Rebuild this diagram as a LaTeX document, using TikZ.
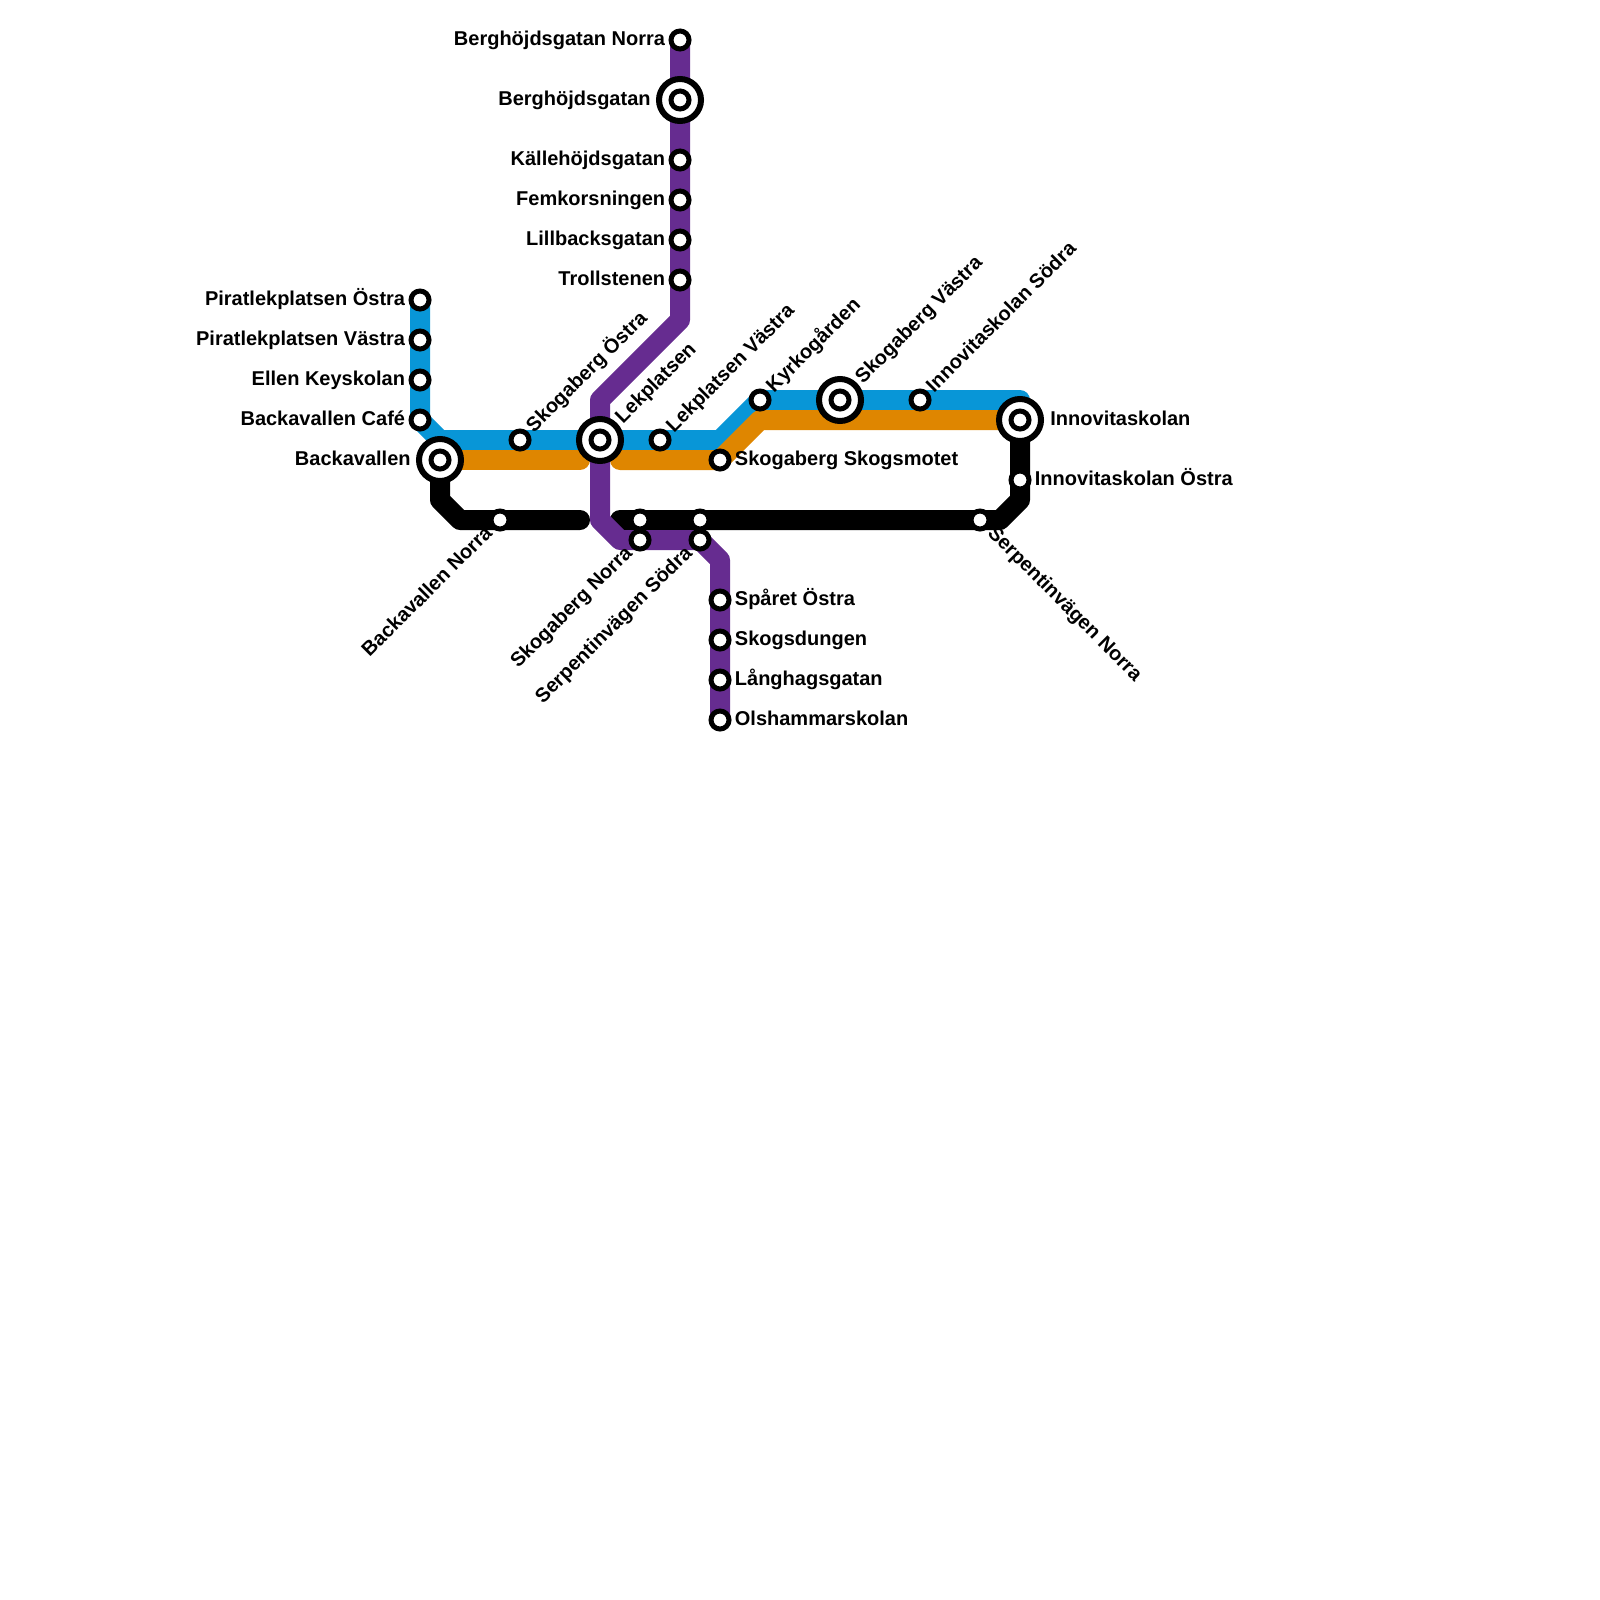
\documentclass[tikz,border=0pt]{standalone}
\usepackage{fontspec}
\setmainfont{Liberation Sans}
\usetikzlibrary{positioning}
\definecolor{METblue}{HTML}{0896D7}
\definecolor{METorange}{HTML}{DF8600}
\definecolor{METpurple}{HTML}{662C90}
\pgfdeclarelayer{lines}
\pgfsetlayers{lines,main}
\tikzset{metline/.style={line width=10pt,line cap=round,line join=round},
 stop/.style={circle,draw=black,line width=2.5pt,fill=white,inner sep=0pt,minimum size=9pt},
 hub/.style={circle,draw=black,line width=3pt,fill=white,inner sep=0pt,minimum size=21pt,
 path picture={\draw[line width=2.5pt] (path picture bounding box.center) circle (4.5pt);}},
 lbl/.style={font=\bfseries\fontsize{10}{10}\selectfont,inner sep=1.5pt,text=black,text height=7.4pt,text depth=2.2pt},
 lblne/.style={lbl,rotate=45,anchor=west},
 lblsw/.style={lbl,rotate=45,anchor=east},
 lblse/.style={lbl,rotate=-45,anchor=west}}

\begin{document}
\begin{tikzpicture}[x=10pt,y=-10pt]
\useasboundingbox (0,0) rectangle (80,80);
% purple
\node[stop] (bergnorra) at (34,2) {};
\node[hub] (berg) at (34,5) {};
\node[stop] (kalle) at (34,8) {};
\node[stop] (femkors) at (34,10) {};
\node[stop] (lillback) at (34,12) {};
\node[stop] (troll) at (34,14) {};
\node[stop] (skogsnorrap) at (32,27) {};
\node[stop] (serpsodra) at (35,27) {};
\node[stop] (sparet) at (36,30) {};
\node[stop] (skogsdungen) at (36,32) {};
\node[stop] (langhag) at (36,34) {};
\node[stop] (olshammar) at (36,36) {};
% blue and orange
\node[stop] (piratost) at (21,15) {};
\node[stop] (piratvast) at (21,17) {};
\node[stop] (ellen) at (21,19) {};
\node[stop] (backacafe) at (21,21) {};
\node[hub] (backa) at (22,23) {};
\node[stop] (skogost) at (26,22) {};
\node[hub] (lek) at (30,22) {};
\node[stop] (lekvast) at (33,22) {};
\node[stop] (skogsmotet) at (36,23) {};
\node[stop] (kyrko) at (38,20) {};
\node[hub] (skogvast) at (42,20) {};
\node[stop] (innosodra) at (46,20) {};
\node[hub] (inno) at (51,21) {};
% black
\node[stop] (backanorra) at (25,26) {};
\node[stop] (skognorra) at (32,26) {};
\node[stop] (serpsodrab) at (35,26) {};
\node[stop] (serpnorra) at (49,26) {};
\node[stop] (innoost) at (51,24) {};
% labels
\node[lbl,left=0pt of bergnorra] (tbergnorra) {Berghöjdsgatan Norra};
\node[lbl,left=1pt of berg] (tberg) {Berghöjdsgatan};
\node[lbl,left=0pt of kalle] (tkalle) {Källehöjdsgatan};
\node[lbl,left=0pt of femkors] (tfemkors) {Femkorsningen};
\node[lbl,left=0pt of lillback] (tlillback) {Lillbacksgatan};
\node[lbl,left=0pt of troll] (ttroll) {Trollstenen};
\node[lbl,left=0pt of piratost] (tpiratost) {Piratlekplatsen Östra};
\node[lbl,left=0pt of piratvast] (tpiratvast) {Piratlekplatsen Västra};
\node[lbl,left=0pt of ellen] (tellen) {Ellen Keyskolan};
\node[lbl,left=0pt of backacafe] (tbackacafe) {Backavallen Café};
\node[lbl,left=1pt of backa] (tbacka) {Backavallen};
\node[lbl,right=0pt of skogsmotet] (tskogsmotet) {Skogaberg Skogsmotet};
\node[lbl,right=0pt of sparet] (tsparet) {Spåret Östra};
\node[lbl,right=0pt of skogsdungen] (tskogsdungen) {Skogsdungen};
\node[lbl,right=0pt of langhag] (tlanghag) {Långhagsgatan};
\node[lbl,right=0pt of olshammar] (tolshammar) {Olshammarskolan};
\node[lbl,right=1.5pt of inno] (tinno) {Innovitaskolan};
\node[lbl,right=0pt of innoost] (tinnoost) {Innovitaskolan Östra};
\node[lblne] (tskogost) at (skogost.45) {Skogaberg Östra};
\node[lblne] (tlek) at (lek.45) {Lekplatsen};
\node[lblne] (tlekvast) at (lekvast.45) {Lekplatsen Västra};
\node[lblne] (tkyrko) at (kyrko.45) {Kyrkogården};
\node[lblne] (tskogvast) at (skogvast.45) {Skogaberg Västra};
\node[lblne] (tinnosodra) at (innosodra.45) {Innovitaskolan Södra};
\node[lblsw] (tbackanorra) at (backanorra.225) {Backavallen Norra};
\node[lblsw] (tskognorra) at (skogsnorrap.225) {Skogaberg Norra};
\node[lblsw] (tserpsodra) at (serpsodra.225) {Serpentinvägen Södra};
\node[lblse] (tserpnorra) at (serpnorra.-45) {Serpentinvägen Norra};
% bends
\coordinate (bluea) at (22,22);
\coordinate (blueb) at (36,22);
\coordinate (bluec) at (38,20);
\coordinate (blued) at (51,20);
\coordinate (orangea) at (29,23);
\coordinate (orangeb) at (31,23);
\coordinate (orangec) at (38,21);
\coordinate (blacka) at (22,25);
\coordinate (blackb) at (23,26);
\coordinate (blackc) at (29,26);
\coordinate (blackd) at (31,26);
\coordinate (blacke) at (50,26);
\coordinate (blackf) at (51,25);
\coordinate (purplea) at (34,16);
\coordinate (purpleb) at (30,20);
\coordinate (purplec) at (30,26);
\coordinate (purpled) at (31,27);
\coordinate (purplee) at (35,27);
\coordinate (purplef) at (36,28);
\begin{pgfonlayer}{lines}
\draw[metline,METblue] (piratost.center)--(backacafe.center)--(bluea)--(blueb)--(bluec)--(blued)--(inno.center);
\draw[metline,METorange] (backa.center)--(orangea);
\draw[metline,METorange] (orangeb)--(skogsmotet.center)--(orangec)--(inno.center);
\draw[metline,black] (backa.center)--(blacka)--(blackb)--(blackc);
\draw[metline,black] (blackd)--(blacke)--(blackf)--(inno.center);
\draw[metline,METpurple] (bergnorra.center)--(purplea)--(purpleb)--(purplec)--(purpled)--(purplee)--(purplef)--(olshammar.center);
\end{pgfonlayer}
\end{tikzpicture}
\end{document}
